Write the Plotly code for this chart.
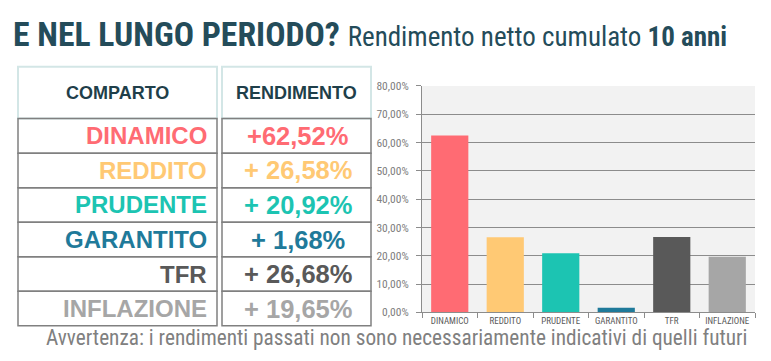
import plotly.graph_objects as go

categories = ["DINAMICO", "REDDITO", "PRUDENTE", "GARANTITO", "TFR", "INFLAZIONE"]
returns = [0.6252, 0.2658, 0.2092, 0.0168, 0.2668, 0.1965]
return_labels = ["+62,52%", "+ 26,58%", "+ 20,92%", "+ 1,68%", "+ 26,68%", "+ 19,65%"]
colors = ["#ff6b73", "#ffc974", "#1cc4b2", "#1f7a9a", "#595959", "#a6a6a6"]
header_labels = ["COMPARTO", "RENDIMENTO"]
y_ticks = [0, 0.1, 0.2, 0.3, 0.4, 0.5, 0.6, 0.7, 0.8]

# page has an 8px body margin; keep the figure inside the 771x361 window
OX, OY = 8, 8
W, H = 771 - 2 * OX, 361 - 2 * OY
def px(x): return (x - OX) / W
def py(y): return 1 - (y - OY) / H

NARROW = "Liberation Sans Narrow, Arial Narrow, Roboto Condensed, sans-serif"
SANS = "Liberation Sans, Arial, sans-serif"

fig = go.Figure()

fig.add_trace(go.Bar(
    x=categories, y=returns,
    marker=dict(color=colors, line=dict(width=0)),
    hoverinfo="skip",
))

# ---- table built from the arrays (shapes + annotations) ----
col_x = [(18, 217), (222, 371)]
head_top, head_bot = 62, 116
row_h = 36
shapes = []
annotations = []
for ci, (x0, x1) in enumerate(col_x):
    shapes.append(dict(type="rect", xref="paper", yref="paper",
                       x0=px(x0), x1=px(x1), y0=py(head_bot), y1=py(head_top),
                       line=dict(color="#d3e6e6", width=2), fillcolor="white", layer="below"))
    annotations.append(dict(xref="paper", yref="paper", x=px((x0 + x1) / 2), y=py((head_top + head_bot) / 2),
                            xanchor="center", yanchor="middle", showarrow=False,
                            text=f"<b>{header_labels[ci]}</b>",
                            font=dict(family=SANS, size=18, color="#1f3f4a")))
    vals = categories if ci == 0 else return_labels
    for ri, v in enumerate(vals):
        y0 = head_bot + ri * row_h
        y1 = y0 + row_h
        shapes.append(dict(type="rect", xref="paper", yref="paper",
                           x0=px(x0), x1=px(x1), y0=py(y1), y1=py(y0),
                           line=dict(color="#808080", width=1.5), fillcolor="rgba(0,0,0,0)"))
        if ci == 0:
            ax, anchor, fs = x1 - 8, "right", 24
        else:
            ax, anchor, fs = (x0 + x1) / 2 + 1, "center", 25.5
        annotations.append(dict(xref="paper", yref="paper", x=px(ax), y=py((y0 + y1) / 2),
                                xanchor=anchor, yanchor="middle", showarrow=False,
                                text=f"<b>{v}</b>",
                                font=dict(family=SANS, size=fs, color=colors[ri])))

annotations.append(dict(
    xref="paper", yref="paper", x=px(11), y=py(28), xanchor="left", yanchor="middle",
    showarrow=False,
    text="<b>E NEL LUNGO PERIODO?</b> <span style='font-size:27px'>Rendimento netto cumulato <b>10 anni</b></span>",
    font=dict(family=NARROW, size=33.7, color="#244c5a"),
))
annotations.append(dict(
    xref="paper", yref="paper", x=px(396), y=py(344), xanchor="center", yanchor="middle",
    showarrow=False,
    text="Avvertenza: i rendimenti passati non sono necessariamente indicativi di quelli futuri",
    font=dict(family=NARROW, size=21.3, color="#808080"),
))

fig.update_layout(
    width=W, height=H,
    margin=dict(l=0, r=0, t=0, b=0),
    paper_bgcolor="white",
    plot_bgcolor="#f2f2f2",
    separators=",.",
    showlegend=False,
    bargap=0.33,
    shapes=shapes,
    annotations=annotations,
    xaxis=dict(
        domain=[px(422), px(755)],
        showline=True, linecolor="#8c8c8c", linewidth=1,
        ticks="outside", tickson="boundaries", ticklen=5, tickcolor="#8c8c8c",
        tickfont=dict(family="Roboto Condensed, Roboto, sans-serif", size=9, color="#595959"),
        showgrid=False, fixedrange=True,
    ),
    yaxis=dict(
        domain=[py(318), py(82)],
        range=[0, 0.8],
        tickvals=y_ticks,
        tickformat=".2%",
        showline=True, linecolor="#8c8c8c", linewidth=1,
        ticks="outside", ticklen=5, tickcolor="#8c8c8c", ticklabelstandoff=5,
        gridcolor="#8c8c8c", gridwidth=1,
        zeroline=False, fixedrange=True,
        tickfont=dict(family="Roboto Condensed, Roboto, sans-serif", size=11.5, color="#808080"),
    ),
)

fig.write_html("out.html")
